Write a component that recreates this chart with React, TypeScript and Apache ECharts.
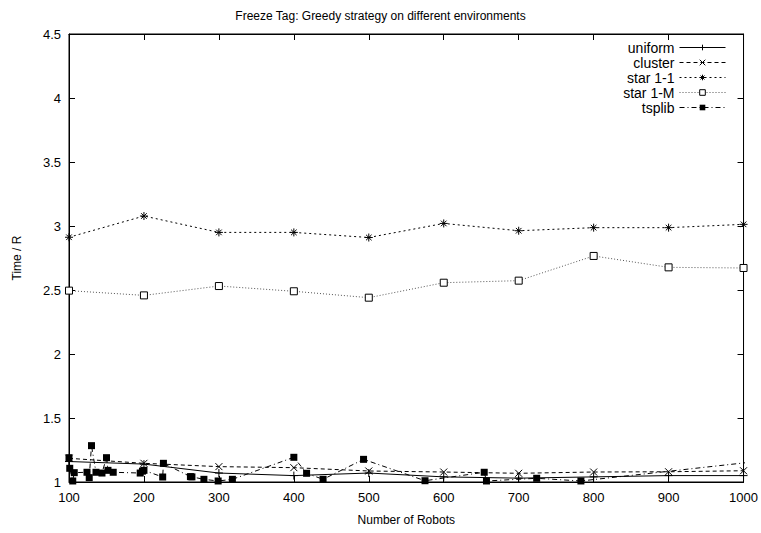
import React, { useEffect, useRef } from "react";
import * as echarts from "echarts";

const robots = [100, 200, 300, 400, 500, 600, 700, 800, 900, 1000];
const uniform = [1.16, 1.14, 1.07, 1.05, 1.07, 1.04, 1.03, 1.04, 1.05, 1.05];
const cluster = [1.185, 1.146, 1.12, 1.112, 1.086, 1.078, 1.068, 1.078, 1.08, 1.088];
const star11 = [2.912, 3.078, 2.95, 2.95, 2.91, 3.02, 2.963, 2.987, 2.987, 3.013];
const star1M = [2.495, 2.458, 2.531, 2.49, 2.44, 2.557, 2.573, 2.766, 2.677, 2.672];
const tsplibX = [100, 101, 105, 107, 124, 127, 130, 136, 144, 150, 152, 159, 195, 198, 200, 225, 226, 262, 264, 280, 299, 318, 400, 417, 439, 493, 575, 654, 657, 724, 783, 1002];
const tsplibY = [1.19, 1.107, 1.008, 1.073, 1.076, 1.034, 1.284, 1.076, 1.07, 1.19, 1.091, 1.076, 1.07, 1.085, 1.091, 1.039, 1.146, 1.042, 1.04, 1.021, 1.008, 1.021, 1.193, 1.068, 1.021, 1.177, 1.01, 1.076, 1.008, 1.029, 1.008, 1.15];
const seriesNames = ["uniform", "cluster", "star 1-1", "star 1-M", "tsplib"];
const xTicks = { min: 100, max: 1000, interval: 100 };
const yTicks = { min: 1, max: 4.5, interval: 0.5 };

const FONT = "'Liberation Sans', Arial, Helvetica, sans-serif";
const PLUS = "path://M0 5L10 5M5 0L5 10";
const CROSS = "path://M0 0L10 10M0 10L10 0";
const STAR = "path://M0 5L10 5M5 0L5 10M1.5 1.5L8.5 8.5M1.5 8.5L8.5 1.5";

export default function App() {
  const ref = useRef<HTMLDivElement>(null);
  useEffect(() => {
    if (!ref.current) return;
    const chart = echarts.init(ref.current, undefined, { renderer: "svg" });
    const pair = (xs: number[], ys: number[]) => xs.map((x, i) => [x, ys[i]]);
    const strokeSym = {
      color: "none",
      borderColor: "#000",
      borderWidth: 1,
    };
    const axisCommon = {
      type: "value" as const,
      axisLine: { show: true, lineStyle: { color: "#000", width: 1 } },
      axisTick: { show: true, inside: true, length: 6, lineStyle: { color: "#000" } },
      splitLine: { show: false },
    };
    chart.setOption({
      animation: false,
      backgroundColor: "#fff",
      textStyle: { fontFamily: FONT },
      title: {
        text: "Freeze Tag: Greedy strategy on different environments",
        left: "center",
        top: 5,
        textStyle: { fontSize: 12, fontWeight: "normal", color: "#000", fontFamily: FONT },
      },
      grid: {
        left: 69,
        right: 17,
        top: 34,
        bottom: 51,
        show: true,
        borderColor: "#000",
        borderWidth: 1,
        backgroundColor: "transparent",
      },
      legend: {
        orient: "vertical",
        right: 30,
        top: 40,
        align: "right",
        itemWidth: 46,
        itemHeight: 7,
        itemGap: 0,
        padding: [0, 5, 0, 5],
        lineStyle: { width: 1 },
        itemStyle: { borderWidth: 1 },
        textStyle: { fontSize: 14, lineHeight: 15, color: "#000", fontFamily: FONT, padding: [0, 0, 0, 0] },
        data: seriesNames,
      },
      xAxis: [
        {
          ...axisCommon,
          ...xTicks,
          position: "bottom",
          name: "Number of Robots",
          nameLocation: "middle",
          nameGap: 32,
          nameTextStyle: { fontSize: 12, color: "#000", fontFamily: FONT },
          axisLabel: { color: "#000", fontSize: 13, margin: 9, fontFamily: FONT, formatter: (v: number) => String(v) },
        },
        {
          ...axisCommon,
          ...xTicks,
          position: "top",
          axisLabel: { show: false },
        },
      ],
      yAxis: [
        {
          ...axisCommon,
          ...yTicks,
          position: "left",
          name: "Time / R",
          nameLocation: "middle",
          nameGap: 46,
          nameRotate: 90,
          nameTextStyle: { fontSize: 12, color: "#000", fontFamily: FONT },
          axisLabel: { color: "#000", fontSize: 13, margin: 8, fontFamily: FONT },
        },
        {
          ...axisCommon,
          ...yTicks,
          position: "right",
          axisLabel: { show: false },
        },
      ],
      series: [
        {
          name: seriesNames[0],
          type: "line",
          data: pair(robots, uniform),
          symbol: PLUS,
          symbolSize: 8,
          showAllSymbol: true,
          lineStyle: { color: "#000", width: 1, type: "solid" },
          itemStyle: strokeSym,
        },
        {
          name: seriesNames[1],
          type: "line",
          data: pair(robots, cluster),
          symbol: CROSS,
          symbolSize: 7,
          lineStyle: { color: "#000", width: 1, type: [4, 3] },
          itemStyle: strokeSym,
        },
        {
          name: seriesNames[2],
          type: "line",
          data: pair(robots, star11),
          symbol: STAR,
          symbolSize: 8,
          lineStyle: { color: "#000", width: 1, type: [2, 3] },
          itemStyle: strokeSym,
        },
        {
          name: seriesNames[3],
          type: "line",
          data: pair(robots, star1M),
          symbol: "rect",
          symbolSize: 7,
          lineStyle: { color: "#555", width: 1, type: [1, 2] },
          itemStyle: { color: "#fff", borderColor: "#000", borderWidth: 1 },
        },
        {
          name: seriesNames[4],
          type: "line",
          data: pair(tsplibX, tsplibY),
          symbol: "rect",
          symbolSize: 7,
          showAllSymbol: true,
          lineStyle: { color: "#000", width: 1, type: [5, 3, 1, 3] },
          itemStyle: { color: "#000" },
        },
      ],
    });
    return () => chart.dispose();
  }, []);
  return (
    <div
      ref={ref}
      style={{ position: "fixed", left: 0, top: 0, width: 761, height: 533, background: "#fff" }}
    />
  );
}
